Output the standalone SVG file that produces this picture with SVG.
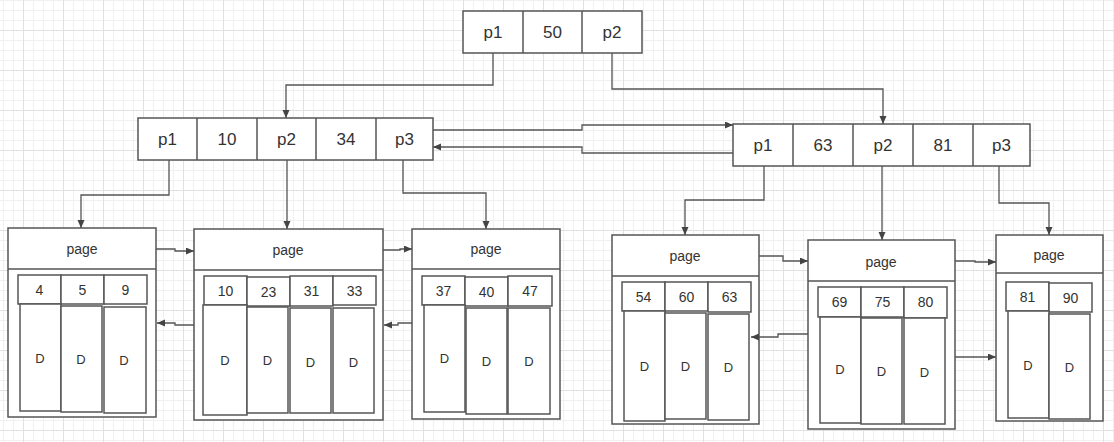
<svg xmlns="http://www.w3.org/2000/svg" width="1114" height="442" viewBox="0 0 1114 442">
<defs>
<pattern id="grid" x="23" y="30" width="40" height="40" patternUnits="userSpaceOnUse">
<rect x="0" y="0" width="40" height="40" fill="#ffffff"/>
<rect x="10" y="0" width="1" height="40" fill="#f0f0f0"/>
<rect x="20" y="0" width="1" height="40" fill="#f0f0f0"/>
<rect x="30" y="0" width="1" height="40" fill="#f0f0f0"/>
<rect x="0" y="10" width="40" height="1" fill="#f0f0f0"/>
<rect x="0" y="20" width="40" height="1" fill="#f0f0f0"/>
<rect x="0" y="30" width="40" height="1" fill="#f0f0f0"/>
<rect x="0" y="0" width="1" height="40" fill="#e1e1e1"/>
<rect x="0" y="0" width="40" height="1" fill="#e1e1e1"/>
</pattern>
<marker id="arr" markerWidth="9" markerHeight="8" refX="8" refY="3.5" orient="auto" markerUnits="userSpaceOnUse">
<path d="M0,0 L8,3.5 L0,7 z" fill="#444"/>
</marker>
</defs>
<style>
.b{fill:#fff;stroke:#555;stroke-width:1.5}
.l{fill:none;stroke:#555;stroke-width:1.5}
.c{fill:none;stroke:#555;stroke-width:1.3;marker-end:url(#arr)}
.t{font-family:"Liberation Sans",Arial,sans-serif;fill:#333;text-anchor:middle;dominant-baseline:central}
.big{font-size:17px}
.pg{font-size:14px}
.k{font-size:14px}
.d{font-size:13px}
</style>
<rect x="0" y="0" width="1114" height="442" fill="url(#grid)"/>

<g id="root">
<rect class="b" x="463" y="11" width="179" height="42"/>
<path class="l" d="M523,11 V53 M582,11 V53"/>
<text class="t big" x="493" y="32">p1</text>
<text class="t big" x="552.5" y="32">50</text>
<text class="t big" x="612" y="32">p2</text>
</g>

<g id="inner-left">
<rect class="b" x="138" y="118" width="295" height="42"/>
<path class="l" d="M197,118 V160 M257,118 V160 M316,118 V160 M376,118 V160"/>
<text class="t big" x="167.5" y="139">p1</text>
<text class="t big" x="227" y="139">10</text>
<text class="t big" x="286.5" y="139">p2</text>
<text class="t big" x="346" y="139">34</text>
<text class="t big" x="404.5" y="139">p3</text>
</g>

<g id="inner-right">
<rect class="b" x="733" y="124" width="297" height="42"/>
<path class="l" d="M793,124 V166 M853,124 V166 M913,124 V166 M973,124 V166"/>
<text class="t big" x="763" y="145">p1</text>
<text class="t big" x="823" y="145">63</text>
<text class="t big" x="883" y="145">p2</text>
<text class="t big" x="943" y="145">81</text>
<text class="t big" x="1001.5" y="145">p3</text>
</g>

<g id="page1">
<rect class="b" x="8" y="228" width="148" height="189"/>
<path class="l" d="M8,269 H156"/>
<text class="t pg" x="82" y="249">page</text>
<rect class="b" x="18" y="275" width="43" height="29"/>
<rect class="b" x="61" y="275" width="43" height="29"/>
<rect class="b" x="104" y="275" width="43" height="29"/>
<text class="t k" x="39.5" y="289.5">4</text>
<text class="t k" x="82.5" y="289.5">5</text>
<text class="t k" x="125.5" y="289.5">9</text>
<rect class="b" x="20" y="304" width="41" height="107"/>
<rect class="b" x="61" y="306" width="41" height="106"/>
<rect class="b" x="104" y="307" width="42" height="106"/>
<text class="t d" x="40" y="358">D</text>
<text class="t d" x="81" y="359">D</text>
<text class="t d" x="124" y="360">D</text>
</g>

<g id="page2">
<rect class="b" x="194" y="229" width="189" height="191"/>
<path class="l" d="M194,270 H383"/>
<text class="t pg" x="288" y="250">page</text>
<rect class="b" x="204" y="276" width="43" height="29"/>
<rect class="b" x="247" y="277" width="43" height="29"/>
<rect class="b" x="290" y="276" width="43" height="30"/>
<rect class="b" x="333" y="276" width="43" height="29"/>
<text class="t k" x="225.5" y="290.5">10</text>
<text class="t k" x="268.5" y="291.5">23</text>
<text class="t k" x="311.5" y="290.5">31</text>
<text class="t k" x="354.5" y="290.5">33</text>
<rect class="b" x="203" y="305" width="44" height="110"/>
<rect class="b" x="247" y="307" width="41" height="106"/>
<rect class="b" x="290" y="308" width="41" height="105"/>
<rect class="b" x="333" y="308" width="41" height="105"/>
<text class="t d" x="225" y="360">D</text>
<text class="t d" x="267.5" y="360">D</text>
<text class="t d" x="310.5" y="362">D</text>
<text class="t d" x="353.5" y="362">D</text>
</g>

<g id="page3">
<rect class="b" x="412" y="229" width="148" height="190"/>
<path class="l" d="M412,269 H560"/>
<text class="t pg" x="486" y="249">page</text>
<rect class="b" x="422" y="276" width="43" height="29"/>
<rect class="b" x="465" y="277" width="43" height="29"/>
<rect class="b" x="508" y="276" width="44" height="30"/>
<text class="t k" x="443.5" y="290.5">37</text>
<text class="t k" x="486.5" y="291.5">40</text>
<text class="t k" x="530" y="290.5">47</text>
<rect class="b" x="424" y="305" width="41" height="107"/>
<rect class="b" x="466" y="308" width="41" height="106"/>
<rect class="b" x="508" y="308" width="42" height="106"/>
<text class="t d" x="444.5" y="358">D</text>
<text class="t d" x="486.5" y="361">D</text>
<text class="t d" x="529" y="361">D</text>
</g>

<g id="page4">
<rect class="b" x="612" y="235" width="147" height="189"/>
<path class="l" d="M612,276 H759"/>
<text class="t pg" x="685" y="256">page</text>
<rect class="b" x="622" y="282" width="43" height="29"/>
<rect class="b" x="665" y="282" width="43" height="29"/>
<rect class="b" x="708" y="282" width="43" height="30"/>
<text class="t k" x="643.5" y="296.5">54</text>
<text class="t k" x="686.5" y="296.5">60</text>
<text class="t k" x="729.5" y="296.5">63</text>
<rect class="b" x="624" y="311" width="41" height="110"/>
<rect class="b" x="665" y="313" width="41" height="106"/>
<rect class="b" x="708" y="314" width="41" height="106"/>
<text class="t d" x="644.5" y="366">D</text>
<text class="t d" x="685.5" y="366">D</text>
<text class="t d" x="728.5" y="367">D</text>
</g>

<g id="page5">
<rect class="b" x="808" y="240" width="147" height="189"/>
<path class="l" d="M808,281 H955"/>
<text class="t pg" x="881" y="262">page</text>
<rect class="b" x="818" y="287" width="43" height="30"/>
<rect class="b" x="861" y="287" width="43" height="30"/>
<rect class="b" x="904" y="287" width="43" height="31"/>
<text class="t k" x="839.5" y="302">69</text>
<text class="t k" x="882.5" y="302">75</text>
<text class="t k" x="925.5" y="302">80</text>
<rect class="b" x="820" y="317" width="41" height="106"/>
<rect class="b" x="861" y="318" width="41" height="106"/>
<rect class="b" x="904" y="318" width="41" height="106"/>
<text class="t d" x="840" y="369">D</text>
<text class="t d" x="881.5" y="371">D</text>
<text class="t d" x="924.5" y="372">D</text>
</g>

<g id="page6">
<rect class="b" x="996" y="235" width="107" height="186"/>
<path class="l" d="M996,273 H1103"/>
<text class="t pg" x="1049" y="255">page</text>
<rect class="b" x="1006" y="282" width="43" height="29"/>
<rect class="b" x="1049" y="283" width="43" height="29"/>
<text class="t k" x="1027.5" y="296.5">81</text>
<text class="t k" x="1070.5" y="297.5">90</text>
<rect class="b" x="1008" y="311" width="41" height="107"/>
<rect class="b" x="1049" y="314" width="41" height="105"/>
<text class="t d" x="1028" y="365">D</text>
<text class="t d" x="1069.5" y="367">D</text>
</g>

<g id="connectors">
<path class="c" d="M493,53 V85 H286 V118"/>
<path class="c" d="M612,53 V89 H883 V124"/>
<path class="c" d="M169,160 V195 H81 V228"/>
<path class="c" d="M287,160 V229"/>
<path class="c" d="M403,160 V193 H486 V229"/>
<path class="c" d="M764,166 V200 H685 V235"/>
<path class="c" d="M882,166 V240"/>
<path class="c" d="M999,166 V203 H1049 V235"/>
<path class="c" d="M433,130 H582 V125 H733"/>
<path class="c" d="M733,153 H582 V147 H433"/>
<path class="c" d="M156,249 H175 V251 H194"/>
<path class="c" d="M194,325 H175 V323 H157"/>
<path class="c" d="M383,250 H400 V249 H412"/>
<path class="c" d="M412,323 H398 V325 H384"/>
<path class="c" d="M759,256 H783 V261 H808"/>
<path class="c" d="M808,334 H778 V337 H751"/>
<path class="c" d="M955,261 H975 V262 H996"/>
<path class="c" d="M955,357 H996"/>
</g>
</svg>
